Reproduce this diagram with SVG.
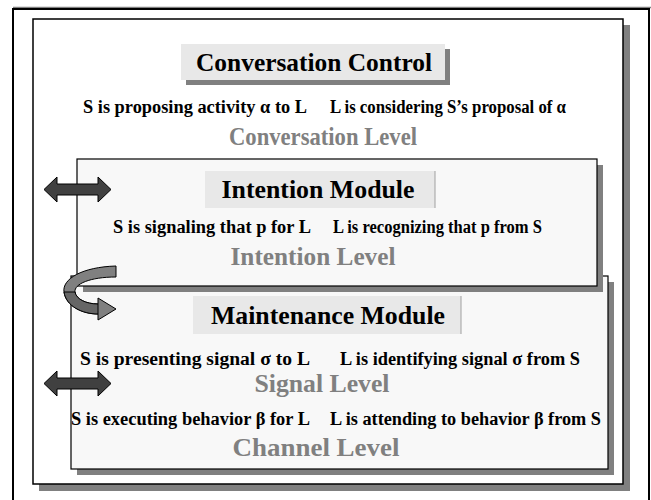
<svg xmlns="http://www.w3.org/2000/svg" width="651" height="500" viewBox="0 0 651 500">
<style>
  .frame{fill:#ffffff;stroke:#000;stroke-width:1.5}
  .panel{fill:#f8f8f8;stroke:#000;stroke-width:1.2}
  .shadow{fill:#808080}
  .title{fill:#e8e8e8}
  .tt{font-family:"Liberation Serif","Times New Roman",serif;font-weight:bold;font-size:26px;fill:#000;text-anchor:middle}
  .ln{font-family:"Liberation Serif","Times New Roman",serif;font-weight:bold;font-size:18px;fill:#000}
  .lv{font-family:"Liberation Serif","Times New Roman",serif;font-weight:bold;font-size:25px;fill:#808080;text-anchor:middle}
  .dbl{fill:#404040;stroke:#000;stroke-width:1}
  .curl{fill:#808080;stroke:#000;stroke-width:1}
</style>
<rect x="0" y="0" width="651" height="500" fill="#ffffff"/>
<!-- outer slide frame -->
<line x1="13" y1="7.5" x2="651" y2="7.5" stroke="#808080" stroke-width="1.5"/>
<rect x="13" y="9" width="636" height="500" fill="none" stroke="#000" stroke-width="2"/>
<g id="conversation-level">
  <rect class="shadow" x="39" y="25" width="591" height="466"/>
  <rect class="frame" x="33" y="19" width="590" height="465"/>
</g>
<g id="conversation-control">
  <rect class="shadow" x="186" y="49" width="264" height="36"/>
  <rect class="title" x="181" y="44" width="264" height="36"/>
  <text class="tt" x="314" y="71" textLength="236" lengthAdjust="spacingAndGlyphs">Conversation Control</text>
</g>
<g id="conversation-texts">
  <text class="ln" x="83" y="113" textLength="224" lengthAdjust="spacingAndGlyphs">S is proposing activity α to L</text>
  <text class="ln" x="330" y="113" textLength="236" lengthAdjust="spacingAndGlyphs">L is considering S’s proposal of α</text>
  <text class="lv" x="323" y="145" textLength="188" lengthAdjust="spacingAndGlyphs">Conversation Level</text>
</g>
<g id="maintenance-module">
  <rect class="shadow" x="77" y="282" width="537" height="193"/>
  <rect class="panel" x="71" y="276" width="537" height="193"/>
  <rect class="title" x="193" y="296" width="268" height="38"/>
  <line x1="461" y1="296" x2="461" y2="334" stroke="#a0a0a0" stroke-width="1"/>
  <text class="tt" x="328" y="324" textLength="234" lengthAdjust="spacingAndGlyphs">Maintenance Module</text>
  <text class="ln" x="80" y="365" textLength="230" lengthAdjust="spacingAndGlyphs">S is presenting signal σ to L</text>
  <text class="ln" x="340" y="365" textLength="240" lengthAdjust="spacingAndGlyphs">L is identifying signal σ from S</text>
  <text class="lv" x="322" y="392" textLength="135" lengthAdjust="spacingAndGlyphs">Signal Level</text>
  <text class="ln" x="71" y="425" textLength="239" lengthAdjust="spacingAndGlyphs">S is executing behavior β for L</text>
  <text class="ln" x="330" y="425" textLength="271" lengthAdjust="spacingAndGlyphs">L is attending to behavior β from S</text>
  <text class="lv" x="316" y="456" textLength="167" lengthAdjust="spacingAndGlyphs">Channel Level</text>
</g>
<g id="intention-module">
  <rect class="shadow" x="83" y="165" width="520" height="127"/>
  <rect class="panel" x="77" y="159" width="520" height="127"/>
  <rect class="title" x="205" y="171" width="230" height="37"/>
  <line x1="435" y1="171" x2="435" y2="208" stroke="#a0a0a0" stroke-width="1"/>
  <text class="tt" x="318" y="198" textLength="193" lengthAdjust="spacingAndGlyphs">Intention Module</text>
  <text class="ln" x="113" y="233" textLength="198" lengthAdjust="spacingAndGlyphs">S is signaling that p for L</text>
  <text class="ln" x="333" y="233" textLength="209" lengthAdjust="spacingAndGlyphs">L is recognizing that p from S</text>
  <text class="lv" x="313" y="265" textLength="165" lengthAdjust="spacingAndGlyphs">Intention Level</text>
</g>
<g id="connectors">
  <path class="dbl" d="M44,189.5 L57,177 L57,184 L98,184 L98,177 L111,189.5 L98,202 L98,195 L57,195 L57,202 Z"/>
  <path class="dbl" d="M44,383.5 L57,371 L57,378 L98,378 L98,371 L111,383.5 L98,396 L98,389 L57,389 L57,396 Z"/>
  <path class="curl" d="M116,266 C82,267 62,279 64,292 C66,306 82,314 98,314 L98,320 L116,309 L98,298 L98,304 C86,304 76,299 75,292 C74,284 90,277 116,277 Z"/>
  <path d="M64,292 C66,306 82,314 98,314 L98,304 C86,304 76,299 75,292 Z" fill="#666666" stroke="#000" stroke-width="1"/>
</g>
</svg>
